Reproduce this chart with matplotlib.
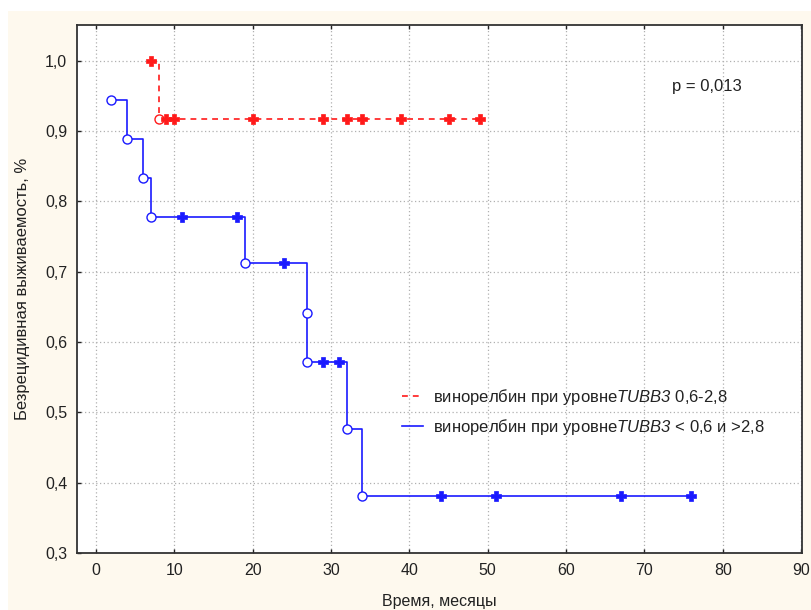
import matplotlib
matplotlib.use("Agg")
import matplotlib.pyplot as plt
from matplotlib.patches import Rectangle
from matplotlib.ticker import FuncFormatter

# Group with TUBB3 0.6-2.8: events (step points) and censored observations
red_event_t = [8]
red_event_s = [0.917]
red_start_t = 7
red_start_s = 1.0
red_cens_t = [7, 9, 10, 20, 29, 32, 34, 39, 45, 49]
red_cens_s = [1.0, 0.917, 0.917, 0.917, 0.917, 0.917, 0.917, 0.917, 0.917, 0.917]

# Group with TUBB3 < 0.6 or > 2.8
blue_event_t = [2, 4, 6, 7, 19, 27, 27, 32, 34]
blue_event_s = [0.944, 0.889, 0.833, 0.778, 0.713, 0.642, 0.571, 0.476, 0.381]
blue_cens_t = [11, 18, 24, 29, 31, 44, 51, 67, 76]
blue_cens_s = [0.778, 0.778, 0.713, 0.571, 0.571, 0.381, 0.381, 0.381, 0.381]

x_ticks = [0, 10, 20, 30, 40, 50, 60, 70, 80, 90]
y_ticks = [0.3, 0.4, 0.5, 0.6, 0.7, 0.8, 0.9, 1.0]

# gene name is set in italics via mathtext
label_red = "винорелбин при уровне$\\mathrm{TUBB3}$ 0,6-2,8"
label_blue = "винорелбин при уровне$\\mathrm{TUBB3}$ < 0,6 и >2,8"
p_text = "p = 0,013"

plt.rcParams["font.family"] = ["Liberation Sans", "DejaVu Sans"]
plt.rcParams["mathtext.fontset"] = "custom"
plt.rcParams["mathtext.rm"] = "Liberation Sans:italic"
plt.rcParams["mathtext.it"] = "Liberation Sans:italic"

RED = "#ff1a1a"
BLUE = "#1a1aff"
TXT = "#222222"

fig = plt.figure(figsize=(8.11, 6.10), dpi=100, facecolor="white")
fig.patches.append(Rectangle((8 / 811, 0), 1, 1 - 11 / 610, transform=fig.transFigure,
                             facecolor="#fef9ee", edgecolor="none", zorder=-10))
ax = fig.add_axes([77 / 811, 1 - 553 / 610, 725 / 811, 528 / 610])
ax.set_facecolor("white")


def step_xy(times, surv):
    xs, ys = [times[0]], [surv[0]]
    for t, s in zip(times[1:], surv[1:]):
        xs += [t, t]
        ys += [ys[-1], s]
    return xs, ys


# Blue curve: starts at first event, extends to last censored time
bx, by = step_xy(blue_event_t, blue_event_s)
bx.append(blue_cens_t[-1])
by.append(by[-1])
ax.plot(bx, by, color=BLUE, lw=1.2, zorder=3, label=label_blue)
ax.plot(blue_event_t, blue_event_s, ls="none", marker="o", ms=6.5, mfc="white",
        mec=BLUE, mew=1.0, zorder=4)
ax.plot(blue_cens_t, blue_cens_s, ls="none", marker="P", ms=7, color=BLUE,
        mec=BLUE, mew=0.5, zorder=4)

# Red curve
rx, ry = step_xy([red_start_t] + red_event_t, [red_start_s] + red_event_s)
rx.append(red_cens_t[-1])
ry.append(ry[-1])
ax.plot(rx, ry, color=RED, lw=1.2, ls=(0, (3.5, 3)), zorder=3, label=label_red)
ax.plot(red_event_t, red_event_s, ls="none", marker="o", ms=6.5, mfc="white",
        mec=RED, mew=1.0, zorder=4)
ax.plot(red_cens_t, red_cens_s, ls="none", marker="P", ms=7, color=RED,
        mec=RED, mew=0.5, zorder=5)

ax.set_xlim(-2.4, 90.1)
ax.set_ylim(0.3, 1.051)
ax.set_xticks(x_ticks)
ax.set_yticks(y_ticks)
ax.yaxis.set_major_formatter(FuncFormatter(lambda v, p: f"{v:.1f}".replace(".", ",")))
ax.grid(True, color="#b0b0b0", lw=0.9, ls=(0, (1, 2)))
ax.set_axisbelow(True)
ax.tick_params(direction="in", length=3, width=1, top=True, right=False,
               labelsize=11.5, colors=TXT, pad=7)
for sp in ax.spines.values():
    sp.set_color("#333333")
    sp.set_linewidth(1.3)

ax.set_xlabel("Время, месяцы", fontsize=11.5, color=TXT, labelpad=12)
ax.set_ylabel("Безрецидивная выживаемость, %", fontsize=12, color=TXT, labelpad=11)

ax.text(0.82, 0.883, p_text, transform=ax.transAxes, fontsize=12, color=TXT,
        va="center", ha="left")

handles, labels = ax.get_legend_handles_labels()
leg = ax.legend(handles[::-1], labels[::-1], loc="upper left",
                bbox_to_anchor=(0.437, 0.33), frameon=False, fontsize=12,
                handlelength=1.25, handletextpad=0.6, labelspacing=0.6,
                borderpad=0)
for t in leg.get_texts():
    t.set_color(TXT)

fig.savefig("out.png", dpi=100, facecolor=fig.get_facecolor())
